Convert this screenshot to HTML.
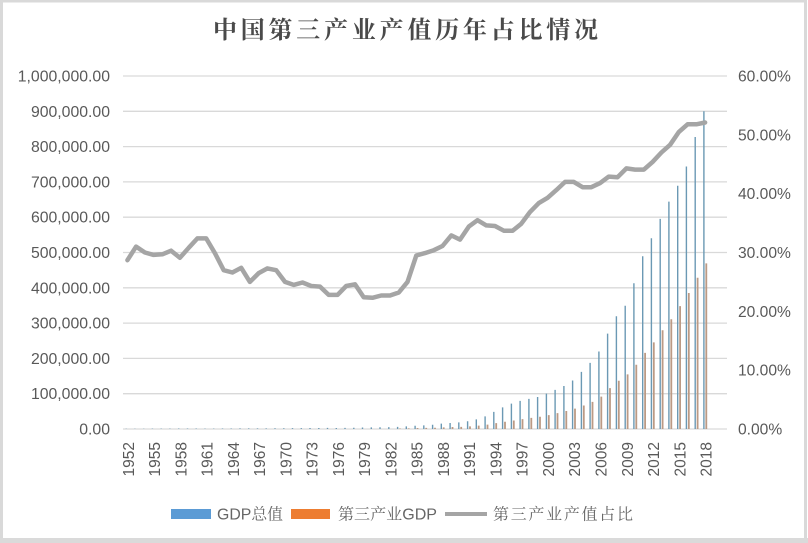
<!DOCTYPE html>
<html><head><meta charset="utf-8"><style>
html,body{margin:0;padding:0;background:#fff;}
svg{display:block;}
</style></head><body>
<svg width="808" height="543" viewBox="0 0 808 543" xmlns="http://www.w3.org/2000/svg">
<rect x="0" y="0" width="808" height="543" fill="#fff"/>
<rect x="1.5" y="1" width="804" height="538.5" fill="none" stroke="#d9d9d9" stroke-width="3"/>
<rect x="0" y="538" width="808" height="5" fill="#dadada"/>
<text x="213" y="38" font-family="'Noto Serif CJK SC','Liberation Serif',serif" font-weight="bold" font-size="24" fill="#4a4a4a" textLength="385" lengthAdjust="spacing">中国第三产业产值历年占比情况</text>
<g stroke="#d9d9d9" stroke-width="1.3">
<line x1="123" x2="727" y1="76" y2="76"/><line x1="123" x2="727" y1="111.3" y2="111.3"/><line x1="123" x2="727" y1="146.6" y2="146.6"/><line x1="123" x2="727" y1="181.9" y2="181.9"/><line x1="123" x2="727" y1="217.2" y2="217.2"/><line x1="123" x2="727" y1="252.5" y2="252.5"/><line x1="123" x2="727" y1="287.8" y2="287.8"/><line x1="123" x2="727" y1="323.1" y2="323.1"/><line x1="123" x2="727" y1="358.4" y2="358.4"/><line x1="123" x2="727" y1="393.7" y2="393.7"/><line x1="123" x2="727" y1="429" y2="429"/>
</g>
<g font-family="'Liberation Sans',sans-serif" font-size="15.8" fill="#595959" text-anchor="end">
<text x="110" y="81.5">1,000,000.00</text><text x="110" y="116.8">900,000.00</text><text x="110" y="152.1">800,000.00</text><text x="110" y="187.4">700,000.00</text><text x="110" y="222.7">600,000.00</text><text x="110" y="258">500,000.00</text><text x="110" y="293.3">400,000.00</text><text x="110" y="328.6">300,000.00</text><text x="110" y="363.9">200,000.00</text><text x="110" y="399.2">100,000.00</text><text x="110" y="434.5">0.00</text>
</g>
<g font-family="'Liberation Sans',sans-serif" font-size="15.6" fill="#595959">
<text x="738" y="81.5">60.00%</text><text x="738" y="140.3">50.00%</text><text x="738" y="199.1">40.00%</text><text x="738" y="258">30.00%</text><text x="738" y="316.8">20.00%</text><text x="738" y="375.7">10.00%</text><text x="738" y="434.5">0.00%</text>
</g>
<g stroke="#6b99b4" stroke-width="1.4" fill="none">
<path d="M126.2 429v-.3M134.9 429v-.3M143.7 429v-.3M152.4 429v-.32M161.2 429v-.36M169.9 429v-.38M178.7 429v-.46M187.5 429v-.51M196.2 429v-.52M205 429v-.43M213.7 429v-.41M222.5 429v-.44M231.2 429v-.52M240 429v-.61M248.7 429v-.67M257.5 429v-.63M266.2 429v-.62M275 429v-.69M283.8 429v-.8M292.5 429v-.87M301.3 429v-.9M310 429v-.97M318.8 429v-1M327.5 429v-1.07M336.3 429v-1.06M345 429v-1.15M353.8 429v-1.3M362.5 429v-1.45M371.3 429v-1.62M380 429v-1.74M388.8 429v-1.9M397.6 429v-2.13M406.3 429v-2.57M415.1 429v-3.21M423.8 429v-3.66M432.6 429v-4.3M441.3 429v-5.36M450.1 429v-6.06M458.8 429v-6.66M467.6 429v-7.77M476.3 429v-9.6M485.1 429v-12.59M493.8 429v-17.17M502.6 429v-21.65M511.4 429v-25.35M520.1 429v-28.14M528.9 429v-30.07M537.6 429v-31.97M546.4 429v-35.4M555.1 429v-39.13M563.9 429v-42.97M572.6 429v-48.51M581.4 429v-57.13M590.1 429v-66.12M598.9 429v-77.46M607.6 429v-95.39M616.4 429v-112.79M625.2 429v-123.23M633.9 429v-145.8M642.7 429v-172.72M651.4 429v-190.75M660.2 429v-210.12M668.9 429v-227.32M677.7 429v-243.24M686.4 429v-262.49M695.2 429v-291.97M703.9 429v-317.81"/>
</g>
<g stroke="#bc9a84" stroke-width="1.8" fill="none">
<path d="M400 429v-.49M408.7 429v-.64M417.5 429v-.95M426.2 429v-1.09M435 429v-1.31M443.7 429v-1.67M452.5 429v-1.99M461.2 429v-2.14M470 429v-2.67M478.7 429v-3.41M487.5 429v-4.36M496.2 429v-5.92M505 429v-7.3M513.8 429v-8.54M522.5 429v-9.82M531.3 429v-11.1M540 429v-12.28M548.8 429v-13.91M557.5 429v-15.89M566.3 429v-18.05M575 429v-20.37M583.8 429v-23.48M592.5 429v-27.18M601.3 429v-32.38M610 429v-40.92M618.8 429v-48.27M627.6 429v-54.59M636.3 429v-64.3M645.1 429v-76.17M653.8 429v-86.6M662.6 429v-98.76M671.3 429v-109.8M680.1 429v-122.84M688.8 429v-135.97M697.6 429v-151.24M706.3 429v-165.58"/>
</g>
<polyline fill="none" stroke="#a5a5a5" stroke-width="4.5" stroke-linejoin="round" stroke-linecap="round" points="127.4,260.2 136.1,246.6 144.9,252.5 153.6,254.9 162.4,254.3 171.1,250.7 179.9,257.8 188.7,247.8 197.4,238.4 206.2,238.4 214.9,253.1 223.7,270.2 232.4,272.5 241.2,267.8 249.9,281.9 258.7,273.1 267.4,268.4 276.2,270.2 285.0,281.9 293.7,284.9 302.5,282.5 311.2,286.0 320.0,286.6 328.7,294.9 337.5,294.9 346.2,286.0 355.0,284.3 363.7,297.2 372.5,297.8 381.2,295.5 390.0,295.5 398.8,292.5 407.5,281.9 416.3,255.5 425.0,253.1 433.8,250.2 442.5,246.0 451.3,235.4 460.0,239.6 468.8,226.6 477.5,220.2 486.3,225.4 495.0,226.0 503.8,230.7 512.6,230.7 521.3,223.7 530.1,211.9 538.8,203.1 547.6,197.8 556.3,190.1 565.1,181.9 573.8,181.9 582.6,187.2 591.3,187.2 600.1,183.1 608.8,176.6 617.6,177.2 626.4,168.4 635.1,169.6 643.9,169.6 652.6,161.9 661.4,152.5 670.1,144.8 678.9,131.9 687.6,124.3 696.4,124.3 705.1,122.5"/>
<g font-family="'Liberation Sans',sans-serif" font-size="15.5" fill="#595959" text-anchor="end">
<text transform="translate(133.8,442) rotate(-90)">1952</text>
<text transform="translate(160,442) rotate(-90)">1955</text>
<text transform="translate(186.3,442) rotate(-90)">1958</text>
<text transform="translate(212.6,442) rotate(-90)">1961</text>
<text transform="translate(238.8,442) rotate(-90)">1964</text>
<text transform="translate(265.1,442) rotate(-90)">1967</text>
<text transform="translate(291.4,442) rotate(-90)">1970</text>
<text transform="translate(317.6,442) rotate(-90)">1973</text>
<text transform="translate(343.9,442) rotate(-90)">1976</text>
<text transform="translate(370.1,442) rotate(-90)">1979</text>
<text transform="translate(396.4,442) rotate(-90)">1982</text>
<text transform="translate(422.7,442) rotate(-90)">1985</text>
<text transform="translate(448.9,442) rotate(-90)">1988</text>
<text transform="translate(475.2,442) rotate(-90)">1991</text>
<text transform="translate(501.4,442) rotate(-90)">1994</text>
<text transform="translate(527.7,442) rotate(-90)">1997</text>
<text transform="translate(554,442) rotate(-90)">2000</text>
<text transform="translate(580.2,442) rotate(-90)">2003</text>
<text transform="translate(606.5,442) rotate(-90)">2006</text>
<text transform="translate(632.8,442) rotate(-90)">2009</text>
<text transform="translate(659,442) rotate(-90)">2012</text>
<text transform="translate(685.3,442) rotate(-90)">2015</text>
<text transform="translate(711.5,442) rotate(-90)">2018</text>
</g>
<rect x="171" y="509" width="40" height="10" fill="#5b9bd5"/>
<rect x="291" y="509" width="39" height="10" fill="#ed7d31"/>
<line x1="445" x2="487" y1="514" y2="514" stroke="#a5a5a5" stroke-width="4"/>
<g font-family="'Liberation Sans','Noto Serif CJK SC',serif" font-size="16" fill="#666666">
<text x="217" y="519.5" textLength="66" lengthAdjust="spacingAndGlyphs">GDP总值</text>
<text x="338" y="519.5" textLength="99" lengthAdjust="spacingAndGlyphs">第三产业GDP</text>
<text x="493" y="519.5" textLength="140" lengthAdjust="spacing">第三产业产值占比</text>
</g>
</svg>
</body></html>
